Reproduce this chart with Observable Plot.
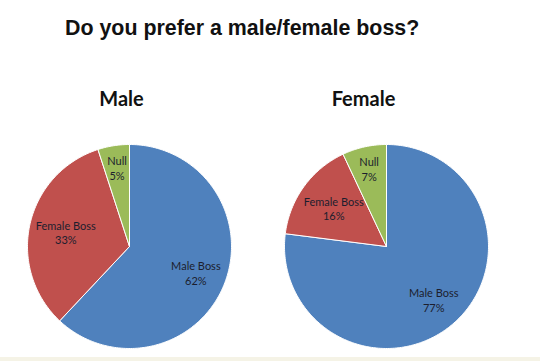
<!DOCTYPE html>
<html>
<head>
<meta charset="utf-8">
<script src="https://cdn.jsdelivr.net/npm/d3@7"></script>
<script src="https://cdn.jsdelivr.net/npm/@observablehq/plot@0.6"></script>
<style>
  html, body { margin: 0; padding: 0; background: #ffffff; }
  #wrap { position: relative; width: 555px; height: 361px; overflow: hidden; }
  #title { position: absolute; left: 65px; top: 18px; font: bold 21.4px "Liberation Sans", Arial, sans-serif; line-height: 21px; color: #111; white-space: nowrap; }
  #charts { position: absolute; left: 0; top: 88px; display: flex; }
  #band { position: absolute; left: 0; top: 357px; width: 540px; height: 4px; background: #f5f3e6; }
  svg { display: block; }
</style>
</head>
<body>
<div id="wrap">
  <div id="title">Do you prefer a male/female boss?</div>
  <div id="charts"></div>
  <div id="band"></div>
</div>
<script>
const chartTitle = "Do you prefer a male/female boss?";
const groups = ["Male", "Female"];
const slices = ["Male Boss", "Female Boss", "Null"];
const maleValues = [62, 33, 5];
const femaleValues = [77, 16, 7];
const colors = ["#4f81bd", "#c0504d", "#9bbb59"];

function pieChart(heading, values, layout) {
  const total = d3.sum(values);
  const arcs = d3.pie().sort(null)(values);
  const poly = [];
  const labels = [];
  arcs.forEach((a, i) => {
    const s = slices[i];
    const span = a.endAngle - a.startAngle;
    const n = Math.max(2, Math.ceil(span / (Math.PI / 180)));
    poly.push({slice: s, x: 0, y: 0});
    for (let k = 0; k <= n; k++) {
      const t = a.startAngle + span * k / n;
      poly.push({slice: s, x: Math.sin(t), y: Math.cos(t)});
    }
    poly.push({slice: s, x: 0, y: 0});
    const mid = (a.startAngle + a.endAngle) / 2;
    const share = values[i] / total;
    const r = share < 0.1 ? 0.78 : (share > 0.5 ? 0.7 : 0.64);
    labels.push({x: r * Math.sin(mid), y: r * Math.cos(mid), text: `${s}\n${values[i]}%`});
  });
  return Plot.plot({
    width: layout.width,
    height: 273,
    marginLeft: layout.marginLeft,
    marginRight: layout.marginRight,
    marginTop: 56,
    marginBottom: 13,
    x: {domain: [-1, 1], axis: null},
    y: {domain: [-1, 1], axis: null},
    color: {domain: slices, range: colors},
    style: {background: "transparent", overflow: "visible"},
    marks: [
      Plot.line(poly, {x: "x", y: "y", z: "slice", fill: "slice", stroke: "white", strokeWidth: 1, strokeLinejoin: "round", curve: "linear"}),
      Plot.text(labels, {x: "x", y: "y", text: "text", fill: "#1c1e2e", fontSize: 11, fontFamily: "Lato, 'Open Sans', sans-serif", lineHeight: 1.3, lineAnchor: "middle"}),
      Plot.text([heading], {frameAnchor: "top", text: d => d, dx: layout.headingDx, dy: -45, fontSize: 20, fontWeight: "bold", fontFamily: "Lato, 'Open Sans', sans-serif", fill: "#111", lineAnchor: "middle"})
    ]
  });
}

const host = document.getElementById("charts");
host.appendChild(pieChart(groups[0], maleValues, {width: 257, marginLeft: 27, marginRight: 26, headingDx: -8}));
host.appendChild(pieChart(groups[1], femaleValues, {width: 258, marginLeft: 27, marginRight: 27, headingDx: -23}));
</script>
</body>
</html>
